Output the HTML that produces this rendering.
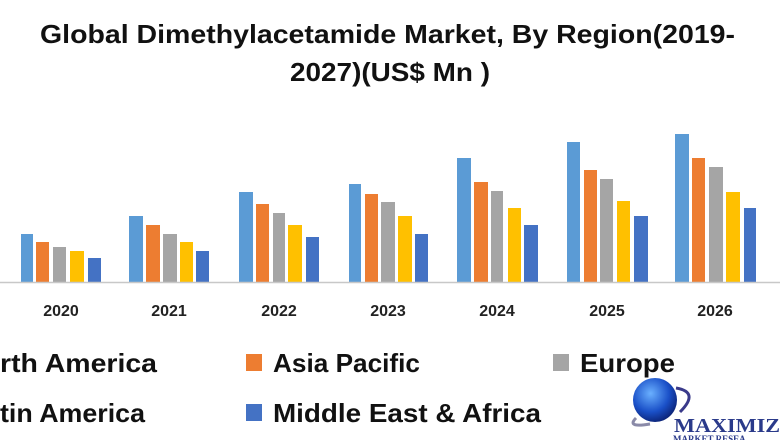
<!DOCTYPE html>
<html><head><meta charset="utf-8"><style>
html,body{margin:0;padding:0;background:#fff;}
svg{display:block}
</style></head><body>
<svg width="780" height="440" viewBox="0 0 780 440" xmlns="http://www.w3.org/2000/svg" font-family="Liberation Sans, sans-serif">
<rect width="780" height="440" fill="#fff"/>
<text x="40" y="43" font-size="26" font-weight="bold" textLength="695" lengthAdjust="spacingAndGlyphs" fill="#111">Global Dimethylacetamide Market, By Region(2019-</text>
<text x="290" y="81" font-size="26" font-weight="bold" textLength="200" lengthAdjust="spacingAndGlyphs" fill="#111">2027)(US$ Mn )</text>
<g>
<rect x="21" y="234" width="12" height="48" fill="#5b9bd5"/><rect x="36" y="242" width="13" height="40" fill="#ed7d31"/><rect x="53" y="247" width="13" height="35" fill="#a5a5a5"/><rect x="70" y="251" width="14" height="31" fill="#ffc000"/><rect x="88" y="258" width="13" height="24" fill="#4472c4"/>
<rect x="129" y="216" width="14" height="66" fill="#5b9bd5"/><rect x="146" y="225" width="14" height="57" fill="#ed7d31"/><rect x="163" y="234" width="14" height="48" fill="#a5a5a5"/><rect x="180" y="242" width="13" height="40" fill="#ffc000"/><rect x="196" y="251" width="13" height="31" fill="#4472c4"/>
<rect x="239" y="192" width="14" height="90" fill="#5b9bd5"/><rect x="256" y="204" width="13" height="78" fill="#ed7d31"/><rect x="273" y="213" width="12" height="69" fill="#a5a5a5"/><rect x="288" y="225" width="14" height="57" fill="#ffc000"/><rect x="306" y="237" width="13" height="45" fill="#4472c4"/>
<rect x="349" y="184" width="12" height="98" fill="#5b9bd5"/><rect x="365" y="194" width="13" height="88" fill="#ed7d31"/><rect x="381" y="202" width="14" height="80" fill="#a5a5a5"/><rect x="398" y="216" width="14" height="66" fill="#ffc000"/><rect x="415" y="234" width="13" height="48" fill="#4472c4"/>
<rect x="457" y="158" width="14" height="124" fill="#5b9bd5"/><rect x="474" y="182" width="14" height="100" fill="#ed7d31"/><rect x="491" y="191" width="12" height="91" fill="#a5a5a5"/><rect x="508" y="208" width="13" height="74" fill="#ffc000"/><rect x="524" y="225" width="14" height="57" fill="#4472c4"/>
<rect x="567" y="142" width="13" height="140" fill="#5b9bd5"/><rect x="584" y="170" width="13" height="112" fill="#ed7d31"/><rect x="600" y="179" width="13" height="103" fill="#a5a5a5"/><rect x="617" y="201" width="13" height="81" fill="#ffc000"/><rect x="634" y="216" width="14" height="66" fill="#4472c4"/>
<rect x="675" y="134" width="14" height="148" fill="#5b9bd5"/><rect x="692" y="158" width="13" height="124" fill="#ed7d31"/><rect x="709" y="167" width="14" height="115" fill="#a5a5a5"/><rect x="726" y="192" width="14" height="90" fill="#ffc000"/><rect x="744" y="208" width="12" height="74" fill="#4472c4"/>
</g>
<line x1="0" y1="282.5" x2="780" y2="282.5" stroke="#c8c8c8" stroke-width="1.5"/>
<g font-size="16" font-weight="bold" fill="#222" text-anchor="middle">
<text x="61" y="316">2020</text><text x="169" y="316">2021</text><text x="279" y="316">2022</text><text x="388" y="316">2023</text><text x="497" y="316">2024</text><text x="607" y="316">2025</text><text x="715" y="316">2026</text>
</g>
<g font-size="26" font-weight="bold" fill="#111">
<text x="0" y="372" textLength="157" lengthAdjust="spacingAndGlyphs">rth America</text>
<rect x="246" y="354" width="16" height="17" fill="#ed7d31"/>
<text x="273" y="372" textLength="147" lengthAdjust="spacingAndGlyphs">Asia Pacific</text>
<rect x="553" y="354" width="16" height="17" fill="#a5a5a5"/>
<text x="580" y="372" textLength="95" lengthAdjust="spacingAndGlyphs">Europe</text>
<text x="0" y="422" textLength="145" lengthAdjust="spacingAndGlyphs">tin America</text>
<rect x="246" y="404" width="16" height="17" fill="#4472c4"/>
<text x="273" y="422" textLength="268" lengthAdjust="spacingAndGlyphs">Middle East &amp; Africa</text>
</g>
<defs><radialGradient id="g" cx="0.4" cy="0.35" r="0.7"><stop offset="0" stop-color="#6ab0ff"/><stop offset="0.6" stop-color="#1a50c8"/><stop offset="1" stop-color="#0a1f70"/></radialGradient></defs>
<path d="M676 388 Q700 392 680 412" fill="none" stroke="#3a3a8a" stroke-width="3"/>
<path d="M636 418 Q626 428 650 424" fill="none" stroke="#8a8aa8" stroke-width="3"/>
<circle cx="655" cy="400" r="22" fill="url(#g)"/>
<text x="674" y="432" font-family="Liberation Serif, serif" font-size="20" font-weight="bold" fill="#2a3a8a" textLength="106" lengthAdjust="spacingAndGlyphs">MAXIMIZ</text>
<text x="673" y="442" font-family="Liberation Serif, serif" font-size="9" font-weight="bold" fill="#2a3a8a">MARKET RESEA</text>
</svg>
</body></html>
